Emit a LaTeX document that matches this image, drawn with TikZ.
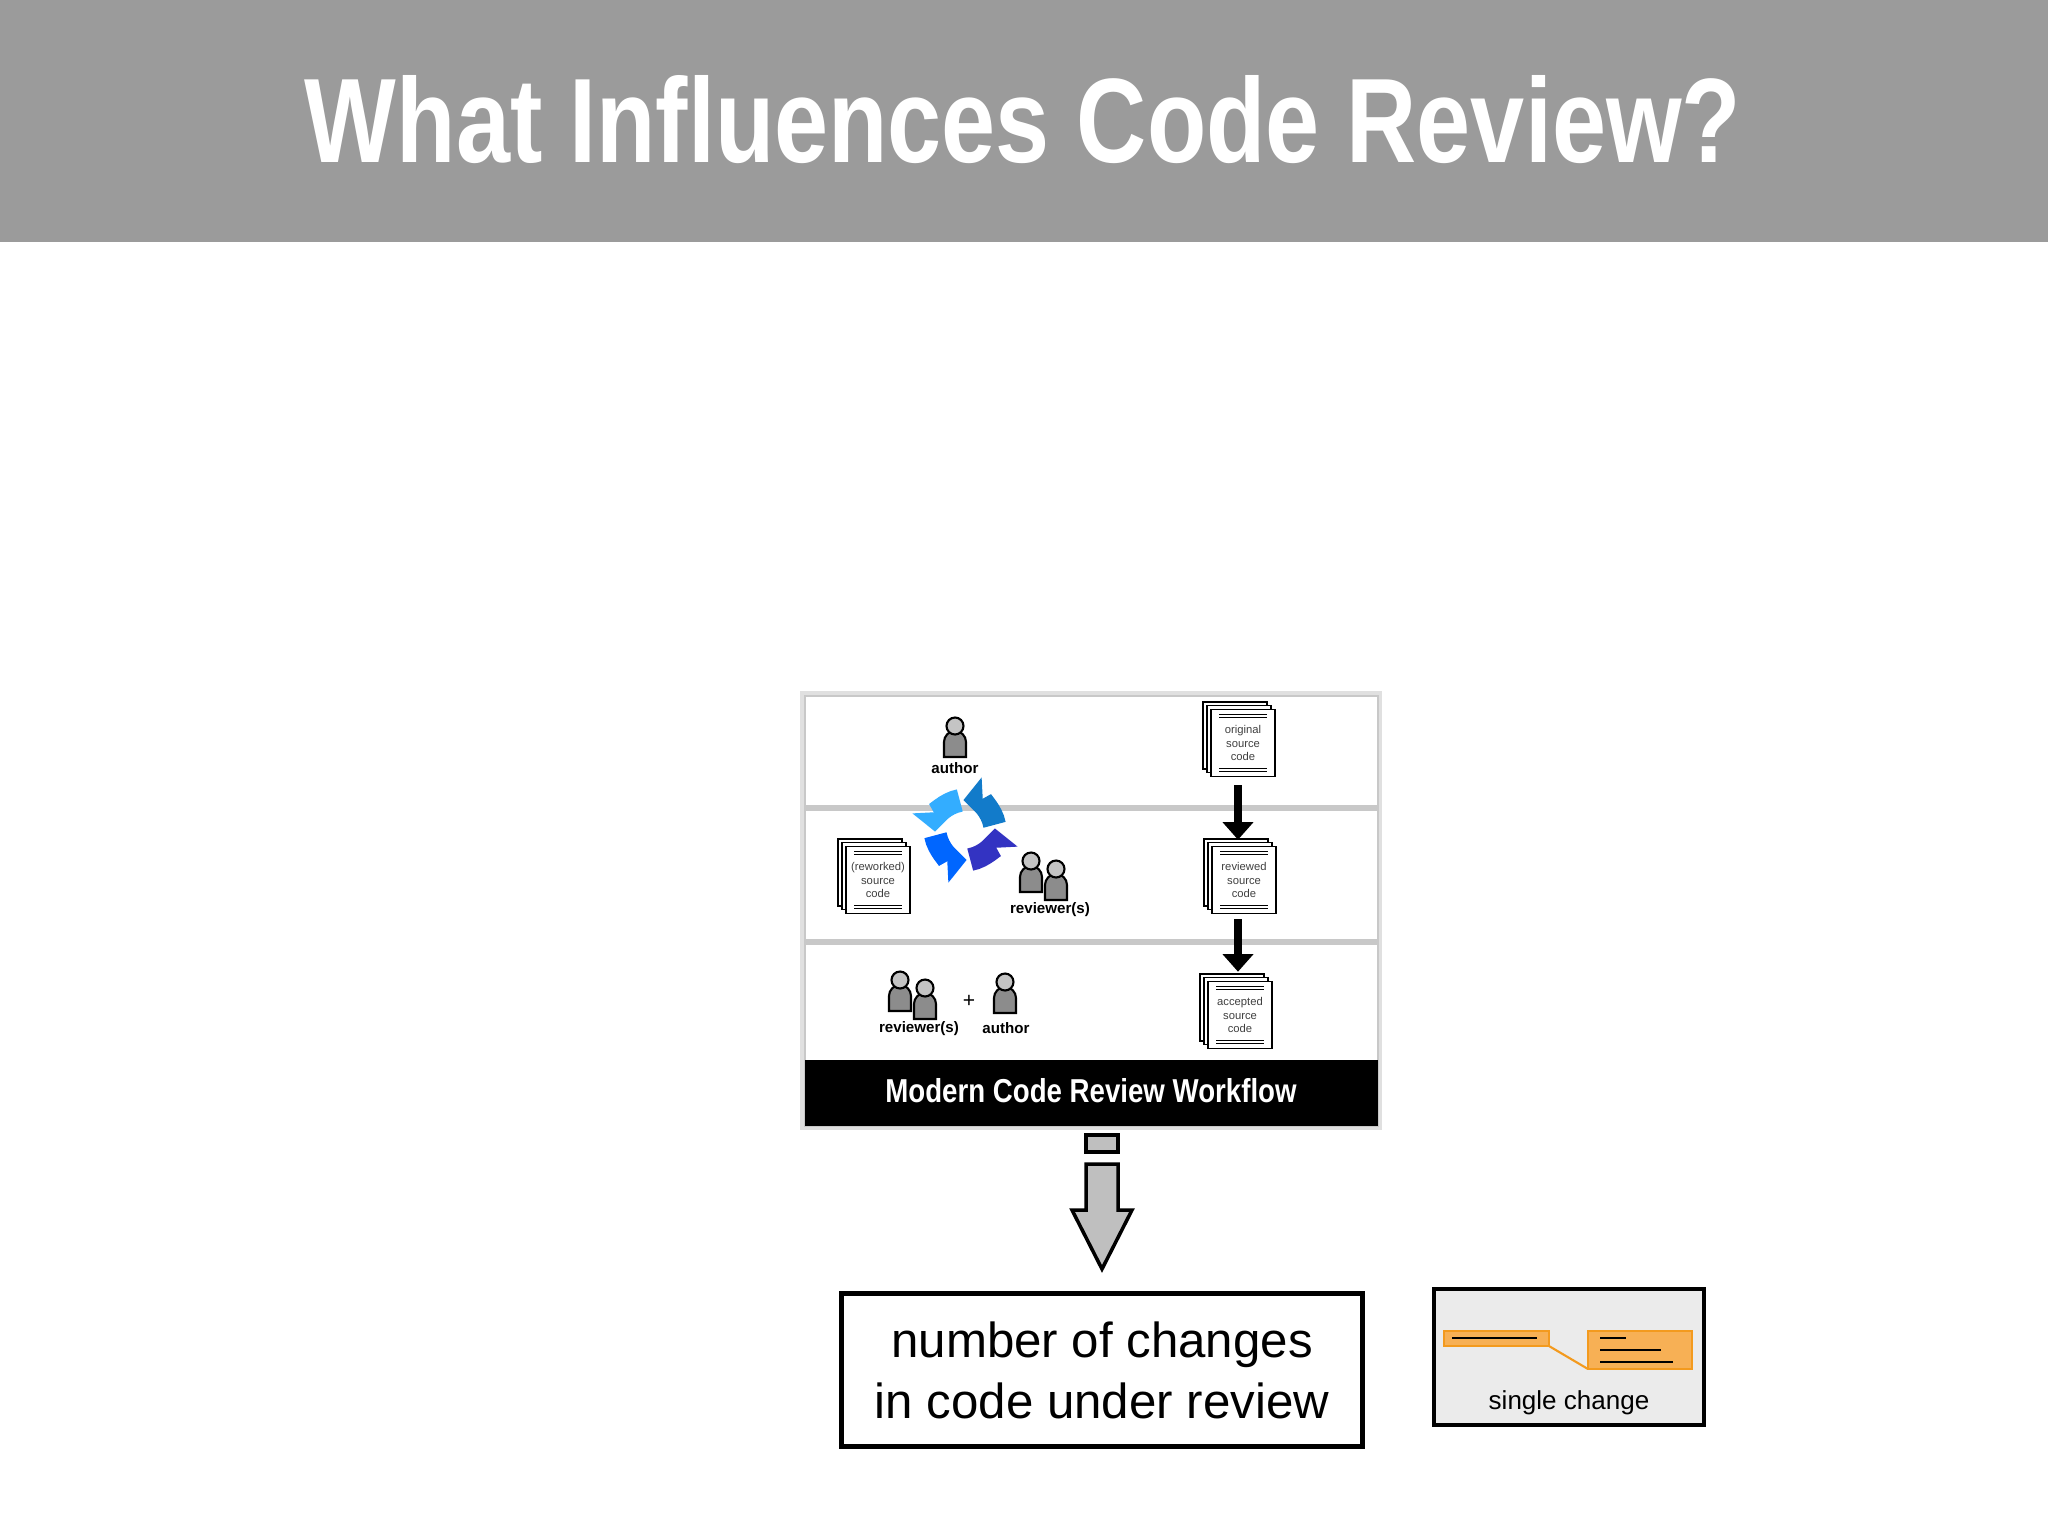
\documentclass[tikz,border=0pt]{standalone}
\usepackage{fontspec}
\setmainfont{Liberation Sans}
\usetikzlibrary{arrows.meta,shadows}
\definecolor{hdr}{HTML}{9B9B9B}
\definecolor{sep}{HTML}{C8C8C8}
\definecolor{orng}{HTML}{F7B055}
\definecolor{orngd}{HTML}{F39A1E}
\definecolor{pbody}{HTML}{8C8C8C}
\definecolor{phead}{HTML}{C4C4C4}
\newlength{\pxu}\setlength{\pxu}{0.01cm}
\tikzset{
  person/.pic={
    \draw[fill=pbody,line width=0.6pt] (-11,20) -- (-11,5) arc[start angle=180,end angle=360,radius=11] -- (11,20) -- cycle;
    \draw[fill=phead,line width=0.6pt] (0,-11) circle (8.5);
  },
  docbox/.style={draw,fill=white,line width=0.45pt,minimum width=64\pxu,minimum height=67\pxu,inner sep=0pt,
    align=center,font=\fontsize{3.2}{3.9}\selectfont,text=black!75,
    double copy shadow={shadow xshift=-1.1pt,shadow yshift=1.1pt,draw,fill=white,line width=0.45pt}},
  lbl/.style={font=\bfseries\fontsize{4.3}{5}\selectfont,inner sep=0pt},
  bigarrow/.style={line width=2.4pt,-{Triangle[length=5pt,width=8.5pt]}},
  cyc/.style={line width=6.5pt,-{Triangle[length=5.5pt,width=12pt]}},
}
\newcommand\doclines[1]{%
  \draw[line width=0.35pt] ([xshift=9\pxu,yshift=-6\pxu]#1.north west) -- ([xshift=-9\pxu,yshift=-6\pxu]#1.north east)
    ([xshift=9\pxu,yshift=-9\pxu]#1.north west) -- ([xshift=-9\pxu,yshift=-9\pxu]#1.north east)
    ([xshift=9\pxu,yshift=6\pxu]#1.south west) -- ([xshift=-9\pxu,yshift=6\pxu]#1.south east)
    ([xshift=9\pxu,yshift=9\pxu]#1.south west) -- ([xshift=-9\pxu,yshift=9\pxu]#1.south east);}
\begin{document}
\begin{tikzpicture}[x=0.01cm,y=-0.01cm]
\useasboundingbox (0,0) rectangle (2048,1535);
\fill[white] (0,0) rectangle (2048,1535);
% header
\fill[hdr] (0,0) rectangle (2048,242);
\node[text=white,inner sep=0pt] (title) at (1023,120) {\resizebox{14.35cm}{0.87cm}{\bfseries What Influences Code Review?}};
% workflow box
\fill[black!12] (800,691) rectangle (1382,1130);
\draw[fill=white,draw=sep,line width=0.8pt] (805,696) rectangle (1378,1126);
\draw[sep,line width=1.6pt] (805,808) -- (1378,808);
\draw[sep,line width=1.6pt] (805,942) -- (1378,942);
\fill[black] (805,1060) rectangle (1378,1126);
\node[text=white,inner sep=0pt] (wft) at (1091,1091) {\resizebox{4.11cm}{0.24cm}{\bfseries Modern Code Review Workflow}};
% people
\pic at (955,737) {person};
\node[lbl] (a1) at (955,768) {author};
\pic at (1031,872) {person};
\pic at (1056,880) {person};
\node[lbl] (r1) at (1050,910) {reviewer(s)};
\pic at (900,991) {person};
\pic at (925,999) {person};
\node[lbl] (r2) at (919,1029) {reviewer(s)};
\node[font=\fontsize{6}{7}\selectfont] (plus) at (969,1001) {+};
\pic at (1005,993) {person};
\node[lbl] (a2) at (1006,1028) {author};
% cycle icon
\begin{scope}[shift={(965,830)}]
\draw[cyc,color=blue!70!black!80] (80:30) arc[start angle=80,end angle=-3,radius=30];
\draw[cyc,color=cyan!60!blue] (350:30) arc[start angle=350,end angle=267,radius=30];
\draw[cyc,color=blue!40!cyan!80] (260:30) arc[start angle=260,end angle=177,radius=30];
\draw[cyc,color=blue!60!cyan] (170:30) arc[start angle=170,end angle=87,radius=30];
\end{scope}
% documents
\node[docbox] (orig) at (1243,743) {original\\source\\code};
\node[docbox] (revd) at (1244,880) {reviewed\\source\\code};
\node[docbox] (acc) at (1240,1015) {accepted\\source\\code};
\node[docbox] (rew) at (878,880) {(reworked)\\source\\code};
\doclines{orig}\doclines{revd}\doclines{acc}\doclines{rew}
\draw[bigarrow] ([xshift=-5\pxu,yshift=-8\pxu]orig.south) -- ([xshift=-6\pxu,yshift=6\pxu]revd.north);
\draw[bigarrow] ([xshift=-6\pxu,yshift=-5\pxu]revd.south) -- ([xshift=-2\pxu,yshift=9\pxu]acc.north);
% gray arrow
\draw[fill=black!25,line width=1pt] (1086,1135) rectangle (1118,1152);
\draw[fill=black!25,line width=1pt,line join=miter] (1086,1164) -- (1118,1164) -- (1118,1210) -- (1132,1210) -- (1102,1269) -- (1072,1210) -- (1086,1210) -- cycle;
% result box
\node[draw,line width=1.2pt,minimum width=521\pxu,minimum height=153\pxu,align=center,
  font=\fontsize{14}{17.4}\selectfont] (res) at (1102,1370) {number of changes\\in code under review};
% single change
\node[draw,line width=0.9pt,fill=black!8,minimum width=270\pxu,minimum height=136\pxu] (sc) at (1569,1357) {};
\node[font=\fontsize{7.4}{9}\selectfont,inner sep=0pt] (sct) at (1569,1403) {single change};
\fill[black!8] (1549,1331) -- (1588,1331) -- (1588,1369) -- (1549,1346) -- cycle;
\draw[orngd,line width=0.6pt] (1549,1346) -- (1588,1369);
\draw[orngd,fill=orng,line width=0.6pt] (1444,1331) rectangle (1549,1346);
\draw[orngd,fill=orng,line width=0.6pt] (1588,1331) rectangle (1692,1369);
\draw[line width=0.6pt] (1452,1338) -- (1537,1338) (1600,1338) -- (1626,1338) (1600,1350) -- (1661,1350) (1600,1362) -- (1673,1362);
\end{tikzpicture}
\end{document}
